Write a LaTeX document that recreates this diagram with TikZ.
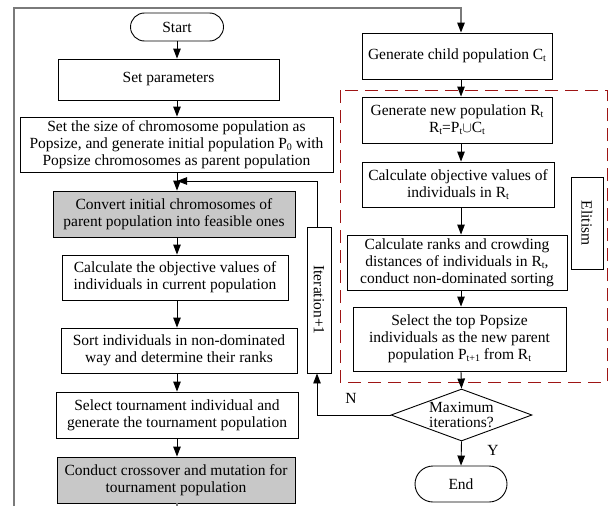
\documentclass[tikz,border=0pt]{standalone}
\usepackage{fontspec}
\setmainfont{Liberation Serif}
\usetikzlibrary{arrows.meta,shapes.geometric}
\newcommand\sbs[1]{\raisebox{-0.3ex}{\fontsize{10}{10}\selectfont #1}}
\definecolor{boxgray}{HTML}{C8C8C8}
\definecolor{dashred}{HTML}{9E1414}
\definecolor{loopgray}{HTML}{7A7A7A}
\tikzset{
  box/.style={draw, line width=0.9pt, rectangle, align=center, inner sep=1pt,
    font=\fontsize{15.5}{17}\selectfont},
  gbox/.style={box, fill=boxgray},
  term/.style={box, rounded corners=14pt},
  arr/.style={line width=0.9pt, -{Triangle[length=10pt,width=7.5pt]}},
  lbl/.style={font=\fontsize{15.5}{17}\selectfont, inner sep=0pt},
}
\begin{document}
\begin{tikzpicture}[x=1pt,y=-1pt]
\useasboundingbox (0,0) rectangle (609,506);
\coordinate (colL) at (177,0);
\coordinate (colR) at (461,0);
% left column
\node[term, minimum width=93pt, minimum height=28pt] (start) at (177,27) {Start};
\node[box, minimum width=221pt, minimum height=41pt] (setparam) at (168.5,79.5) {Set parameters};
\node[box, minimum width=313pt, minimum height=55pt] (setsize) at (176.5,144.5) {Set the size of chromosome population as\\Popsize, and generate initial population P\sbs{0} with\\Popsize chromosomes as parent population};
\node[gbox, minimum width=242pt, minimum height=46pt] (convert) at (174,214) {Convert initial chromosomes of\\parent population into feasible ones};
\node[box, minimum width=226pt, minimum height=45pt] (calcobj) at (175,277.5) {Calculate the objective values of\\individuals in current population};
\node[box, minimum width=236pt, minimum height=45pt] (sort) at (179,350.5) {Sort individuals in non-dominated\\way and determine their ranks};
\node[box, minimum width=242pt, minimum height=46pt] (select) at (177,415) {Select tournament individual and\\generate the tournament population};
\node[gbox, minimum width=238pt, minimum height=46pt] (conduct) at (176,480) {Conduct crossover and mutation for\\tournament population};
% right column
\node[box, minimum width=190pt, minimum height=46pt] (child) at (457,56) {Generate child population C\sbs{t}};
\node[box, minimum width=190pt, minimum height=46pt] (newpop) at (457,120) {Generate new population R\sbs{t}\\R\sbs{t}=P\sbs{t}$\cup$C\sbs{t}};
\node[box, minimum width=192pt, minimum height=45pt] (calcR) at (458,184.5) {Calculate objective values of\\individuals in R\sbs{t}};
\node[box, minimum width=220pt, minimum height=55pt] (ranks) at (457,262.5) {Calculate ranks and crowding\\distances of individuals in R\sbs{t},\\conduct non-dominated sorting};
\node[box, minimum width=213pt, minimum height=64pt] (top) at (459.5,339) {Select the top Popsize\\individuals as the new parent\\population P\sbs{t+1} from R\sbs{t}};
\node[box, minimum width=32pt, minimum height=92pt] (elit) at (587,223) {};
\node[lbl, rotate=-90] (elittext) at (elit) {Elitism};
\node[draw, line width=0.9pt, diamond, inner sep=0pt, minimum width=141pt, minimum height=52pt] (dec) at (461.5,415) {};
\node[lbl, align=center, font=\fontsize{15.5}{15.5}\selectfont] (dectext) at (dec) {Maximum\\iterations?};
\node[term, minimum width=92pt, minimum height=36pt, rounded corners=18pt] (end) at (461,484) {End};
\node[box, minimum width=24pt, minimum height=146pt] (iter) at (319,300) {};
\node[lbl, rotate=-90] (itertext) at (iter) {Iteration+1};
% dashed elitism region
\draw[dashred, line width=1pt, dash pattern=on 13pt off 7pt] (340,90) rectangle (607,382);
% labels
\node[lbl] (nlab) at (351,398) {N};
\node[lbl] (ylab) at (493,450) {Y};
% left column arrows
\draw[arr] (start.south -| colL) -- (setparam.north -| colL);
\draw[arr] (setparam.south -| colL) -- (setsize.north -| colL);
\draw[arr] (setsize.south -| colL) -- (convert.north -| colL);
\draw[arr] (convert.south -| colL) -- (calcobj.north -| colL);
\draw[arr] (calcobj.south -| colL) -- (sort.north -| colL);
\draw[arr] (sort.south -| colL) -- (select.north -| colL);
\draw[arr] (select.south -| colL) -- (conduct.north -| colL);
% iteration loop
\coordinate (merge) at (177,181);
\draw[arr] (iter.north -| 317,0) -- (317,181) -- (merge);
\draw[arr] (dec.west) -- (317,415) -- (iter.south -| 317,0);
% right column arrows
\draw[arr] (child.south -| colR) -- (newpop.north -| colR);
\draw[arr] (newpop.south -| colR) -- (calcR.north -| colR);
\draw[arr] (calcR.south -| colR) -- (ranks.north -| colR);
\draw[arr] (ranks.south -| colR) -- (top.north -| colR);
\draw[arr] (top.south -| colR) -- (dec.north);
\draw[arr] (dec.south) -- (end.north);
% outer loop (gray)
\coordinate (cb) at (177,506);
\coordinate (lb) at (14,506);
\coordinate (lt) at (14,8);
\draw[loopgray, line width=1.3pt] (conduct.south -| colL) -- (cb);
\draw[loopgray, line width=1.3pt, -{Triangle[length=10pt,width=7.5pt,color=black]}] (lb) -- (lt) -| (child.north -| colR);
\end{tikzpicture}
\end{document}
